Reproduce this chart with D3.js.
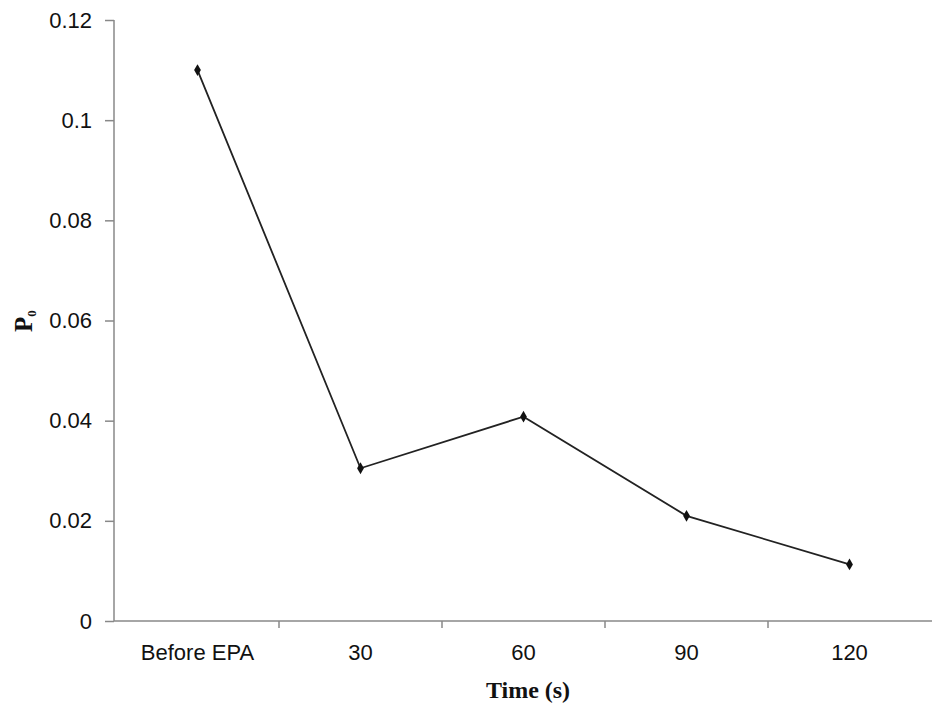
<!DOCTYPE html>
<html>
<head>
<meta charset="utf-8">
<script src="https://cdn.jsdelivr.net/npm/d3@7"></script>
<style>
  body { margin: 0; background: #fff; }
  .tick text { font-family: "Liberation Sans", Arial, sans-serif; font-size: 22px; fill: #111; }
</style>
</head>
<body>
<script>
// Data
var categories = ["Before EPA", "30", "60", "90", "120"];
var p0Values = [0.11, 0.0305, 0.0408, 0.021, 0.0113];
var yTicks = [0, 0.02, 0.04, 0.06, 0.08, 0.1, 0.12];

var data = categories.map(function (c, i) { return { cat: c, value: p0Values[i] }; });

// Dimensions and margins
var margin = { top: 20, right: 1, bottom: 84, left: 114 },
    width = 932 - margin.left - margin.right,
    height = 705 - margin.top - margin.bottom;

var svg = d3.select("body")
    .append("svg")
    .attr("width", width + margin.left + margin.right)
    .attr("height", height + margin.top + margin.bottom)
    .append("g")
    .attr("transform", "translate(" + margin.left + "," + margin.top + ")");

// X scale (bands, ticks between categories)
var x = d3.scaleBand()
    .domain(categories)
    .range([2, width]);

// Y scale
var y = d3.scaleLinear()
    .domain([0, 0.12])
    .range([height, 0]);

// Y axis
var yAxis = svg.append("g")
    .call(d3.axisLeft(y).tickValues(yTicks).tickSize(9).tickPadding(13)
        .tickFormat(function (d) { return d === 0 ? "0" : String(+d.toFixed(2)); }));
yAxis.select(".domain").attr("stroke", "#888").attr("stroke-width", 1.5)
    .attr("d", "M0," + height + "V0");
yAxis.selectAll(".tick line").attr("stroke", "#888").attr("stroke-width", 1.5);

// X axis
var xAxis = svg.append("g")
    .attr("transform", "translate(0," + height + ")")
    .call(d3.axisBottom(x).tickSize(0).tickPadding(23));
xAxis.select(".domain").attr("stroke", "#888").attr("stroke-width", 1.5)
    .attr("d", "M0,0H" + (width + 1));

// Tick marks at category boundaries
xAxis.selectAll(".boundary")
    .data(categories.slice(1))
    .enter().append("line")
    .attr("class", "boundary")
    .attr("x1", function (d) { return x(d); })
    .attr("x2", function (d) { return x(d); })
    .attr("y1", 0)
    .attr("y2", 7)
    .attr("stroke", "#888")
    .attr("stroke-width", 1.5);

// Line
var line = d3.line()
    .x(function (d) { return x(d.cat) + x.bandwidth() / 2; })
    .y(function (d) { return y(d.value); });

svg.append("path")
    .datum(data)
    .attr("fill", "none")
    .attr("stroke", "#222")
    .attr("stroke-width", 1.8)
    .attr("d", line);

// Diamond markers
svg.selectAll(".marker")
    .data(data)
    .enter().append("path")
    .attr("class", "marker")
    .attr("transform", function (d) {
        return "translate(" + (x(d.cat) + x.bandwidth() / 2) + "," + y(d.value) + ")";
    })
    .attr("d", d3.symbol().type(d3.symbolDiamond).size(40))
    .attr("fill", "#111");

// X axis title
svg.append("text")
    .attr("x", 414)
    .attr("y", height + 77)
    .attr("text-anchor", "middle")
    .style("font-family", "'Liberation Serif', 'Times New Roman', serif")
    .style("font-weight", "bold")
    .style("font-size", "24px")
    .attr("fill", "#111")
    .text("Time (s)");

// Y axis title with subscript
var yTitle = svg.append("text")
    .attr("transform", "translate(" + (32 - margin.left) + "," + (332 - margin.top) + ") rotate(-90)")
    .attr("text-anchor", "start")
    .style("font-family", "'Liberation Serif', 'Times New Roman', serif")
    .style("font-weight", "bold")
    .style("font-size", "25px")
    .attr("fill", "#111");
yTitle.append("tspan").text("P");
yTitle.append("tspan").attr("dy", 4).style("font-size", "13px").text("0");
</script>
</body>
</html>
